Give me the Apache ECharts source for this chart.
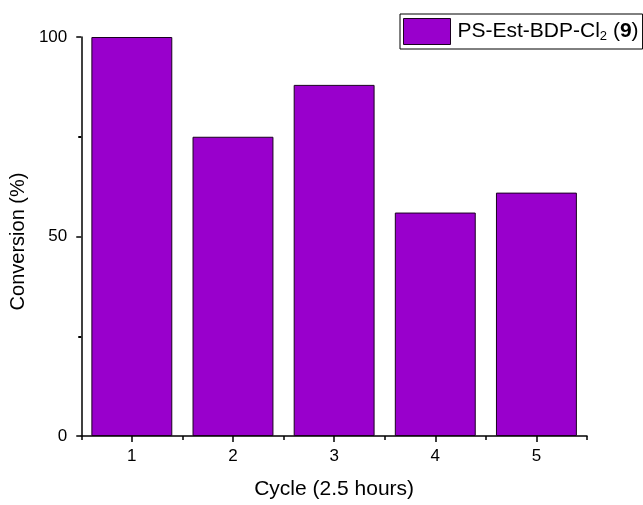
<!DOCTYPE html>
<html>
<head>
<meta charset="utf-8">
<script src="https://cdn.jsdelivr.net/npm/echarts@6/dist/echarts.min.js"></script>
<style>
  html, body { margin: 0; padding: 0; background: #fff; }
  #chart { width: 643px; height: 505px; }
</style>
</head>
<body>
<div id="chart"></div>
<script>
// Photocatalyst recycling: conversion per 2.5 h cycle
const cycles = ['1', '2', '3', '4', '5'];
const conversion = [100, 75, 88, 56, 61];
const seriesName = 'PS-Est-BDP-Cl2 (9)';
const yTicks = [0, 50, 100];

const font = '"Liberation Sans", Arial, sans-serif';
const chart = echarts.init(document.getElementById('chart'), null, { renderer: 'canvas' });

chart.setOption({
  animation: false,
  backgroundColor: '#ffffff',
  textStyle: { fontFamily: font, color: '#000' },
  grid: { left: 81, right: 56, top: 37, bottom: 64, containLabel: false },
  legend: {
    left: 400, top: 14,
    padding: [4, 4, 4, 3],
    itemWidth: 47, itemHeight: 26, itemGap: 0,
    borderColor: '#000', borderWidth: 1,
    icon: 'rect',
    itemStyle: { borderColor: '#1a001f', borderWidth: 1 },
    formatter: () => 'PS-Est-BDP-Cl{sub|2} ({b|9})',
    textStyle: {
      fontFamily: font, fontSize: 21, color: '#000', padding: [0, 0, 0, 2],
      rich: {
        sub: { fontFamily: font, fontSize: 13, color: '#000', verticalAlign: 'bottom', padding: [10, 0, 0, 0] },
        b: { fontFamily: font, fontSize: 21, fontWeight: 'bold', color: '#000' }
      }
    },
    data: [seriesName]
  },
  xAxis: [
    {
      type: 'category',
      data: cycles,
      boundaryGap: true,
      name: 'Cycle (2.5 hours)',
      nameLocation: 'middle',
      nameGap: 43,
      nameTextStyle: { fontFamily: font, fontSize: 21, color: '#000' },
      axisLine: { show: true, lineStyle: { color: '#000', width: 1.5 } },
      axisTick: { show: true, alignWithLabel: true, length: 6, lineStyle: { color: '#000', width: 1.5 } },
      axisLabel: { fontFamily: font, fontSize: 17, color: '#000', margin: 12 },
      splitLine: { show: false }
    },
    {
      // boundary ticks between cycles
      type: 'category',
      data: cycles,
      position: 'bottom',
      boundaryGap: true,
      axisLine: { show: false },
      axisTick: { show: true, length: 4, lineStyle: { color: '#000', width: 1.5 } },
      axisLabel: { show: false },
      splitLine: { show: false }
    }
  ],
  yAxis: {
    type: 'value',
    min: yTicks[0],
    max: yTicks[yTicks.length - 1],
    interval: yTicks[1] - yTicks[0],
    name: 'Conversion (%)',
    nameLocation: 'middle',
    nameGap: 50,
    nameTextStyle: { fontFamily: font, fontSize: 20, color: '#000', padding: [0, 10, 0, 0] },
    axisLine: { show: true, lineStyle: { color: '#000', width: 1.5 } },
    axisTick: { show: true, length: 5, lineStyle: { color: '#000', width: 1.5 } },
    minorTick: { show: true, splitNumber: 2, length: 3, lineStyle: { color: '#000', width: 2 } },
    axisLabel: { fontFamily: font, fontSize: 17, color: '#000', margin: 14 },
    splitLine: { show: false }
  },
  series: [{
    name: seriesName,
    type: 'bar',
    xAxisIndex: 0,
    data: conversion,
    barWidth: '80%',
    itemStyle: { color: '#9900cc', borderColor: '#1a001f', borderWidth: 1 }
  }]
});
</script>
</body>
</html>
